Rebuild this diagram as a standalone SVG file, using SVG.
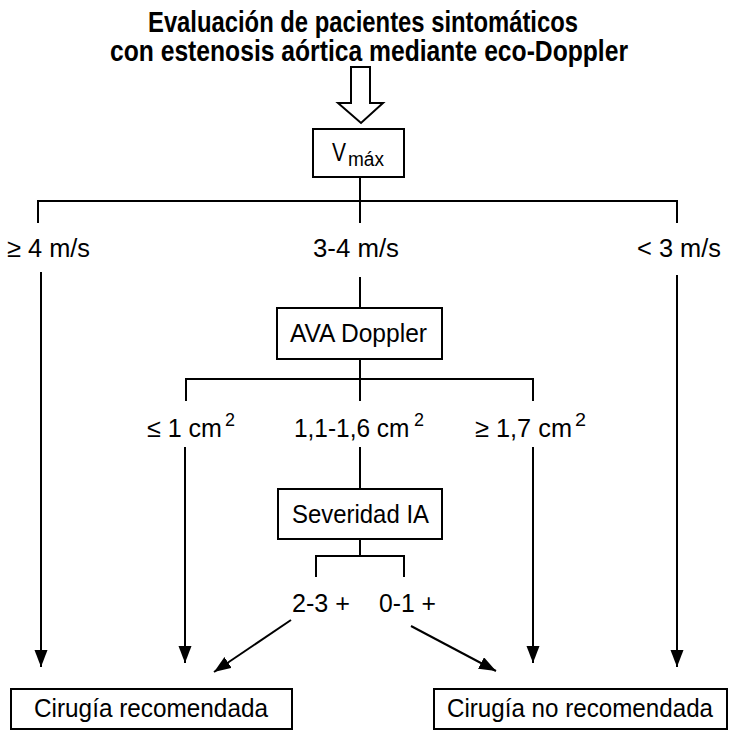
<svg xmlns="http://www.w3.org/2000/svg" width="730" height="732" viewBox="0 0 730 732">
<style>
  text { font-family: "Liberation Sans Narrow", "Liberation Sans", Arial, sans-serif; fill: #000; }
  .title { font-size: 29px; font-weight: bold; }
  .lbl { font-size: 26px; }
  .sup { font-size: 18px; }
  .box { fill: #fff; stroke: #000; stroke-width: 2; }
  .ln { fill: none; stroke: #000; stroke-width: 2; }
  .arr { fill: none; stroke: #000; stroke-width: 2; marker-end: url(#ah); }
</style>
<defs>
  <marker id="ah" markerUnits="userSpaceOnUse" markerWidth="18" markerHeight="14" refX="17" refY="6.5" orient="auto">
    <path d="M0,0 L17,6.5 L0,13 z" fill="#000"/>
  </marker>
</defs>
<rect width="730" height="732" fill="#fff"/>

<g id="title">
  <text class="title" x="148" y="32" textLength="430" lengthAdjust="spacingAndGlyphs">Evaluación de pacientes sintomáticos</text>
  <text class="title" x="110" y="61" textLength="518" lengthAdjust="spacingAndGlyphs">con estenosis aórtica mediante eco-Doppler</text>
</g>

<g id="connectors">
  <polygon class="box" points="351,67 370,67 370,103 383,103 361,123 338,103 351,103"/>
  <!-- Vmax branches -->
  <path class="ln" d="M360,177 V223 M38,223 V201 H677 V223"/>
  <path class="ln" d="M360,277 V308"/>
  <line class="arr" x1="41" y1="272" x2="41" y2="667"/>
  <line class="arr" x1="677" y1="275" x2="677" y2="667"/>
  <!-- AVA branches -->
  <path class="ln" d="M360,359 V401 M186,401 V379 H533 V401"/>
  <path class="ln" d="M360,447 V489"/>
  <line class="arr" x1="185" y1="447" x2="185" y2="663"/>
  <line class="arr" x1="533" y1="447" x2="533" y2="663"/>
  <!-- Severidad branches -->
  <path class="ln" d="M360,539 V556 M316,577 V556 H404 V577"/>
  <line class="arr" x1="291" y1="620" x2="214" y2="672"/>
  <line class="arr" x1="411" y1="626" x2="496" y2="671"/>
</g>

<g id="vmax">
  <rect class="box" x="313" y="129" width="91" height="48"/>
  <text class="lbl" x="332" y="161" textLength="14" lengthAdjust="spacingAndGlyphs">V</text>
  <text x="348" y="166" style="font-size:20px" textLength="36" lengthAdjust="spacingAndGlyphs">máx</text>
</g>

<g id="v-labels">
  <text class="lbl" x="7" y="257" textLength="83" lengthAdjust="spacingAndGlyphs">≥ 4 m/s</text>
  <text class="lbl" x="313" y="257" textLength="86" lengthAdjust="spacingAndGlyphs">3-4 m/s</text>
  <text class="lbl" x="637" y="257" textLength="84" lengthAdjust="spacingAndGlyphs">&lt; 3 m/s</text>
</g>

<g id="ava">
  <rect class="box" x="277" y="308" width="165" height="51"/>
  <text class="lbl" x="290" y="342" textLength="137" lengthAdjust="spacingAndGlyphs">AVA Doppler</text>
</g>

<g id="ava-labels">
  <text class="lbl" x="147" y="437" textLength="75" lengthAdjust="spacingAndGlyphs">≤ 1 cm</text>
  <text class="sup" x="225" y="426" textLength="10" lengthAdjust="spacingAndGlyphs">2</text>
  <text class="lbl" transform="translate(294,437) scale(0.94,1)" x="0" y="0">1,1-1,6 cm</text>
  <text class="sup" x="414" y="426" textLength="10" lengthAdjust="spacingAndGlyphs">2</text>
  <text class="lbl" x="475" y="437" textLength="97" lengthAdjust="spacingAndGlyphs">≥ 1,7 cm</text>
  <text class="sup" x="575" y="426" textLength="11" lengthAdjust="spacingAndGlyphs">2</text>
</g>

<g id="severidad">
  <rect class="box" x="278" y="489" width="164" height="50"/>
  <text class="lbl" x="292" y="523" textLength="137" lengthAdjust="spacingAndGlyphs">Severidad IA</text>
</g>

<g id="ia-labels">
  <text class="lbl" x="292" y="612" textLength="58" lengthAdjust="spacingAndGlyphs">2-3 +</text>
  <text class="lbl" x="379" y="612" textLength="57" lengthAdjust="spacingAndGlyphs">0-1 +</text>
</g>

<g id="cirugia-recomendada">
  <rect class="box" x="11" y="689" width="281" height="40"/>
  <text class="lbl" x="34" y="717" textLength="234" lengthAdjust="spacingAndGlyphs">Cirugía recomendada</text>
</g>

<g id="cirugia-no-recomendada">
  <rect class="box" x="434" y="689" width="293" height="40"/>
  <text class="lbl" transform="translate(447,717) scale(0.93,1)" x="0" y="0">Cirugía no recomendada</text>
</g>
</svg>
